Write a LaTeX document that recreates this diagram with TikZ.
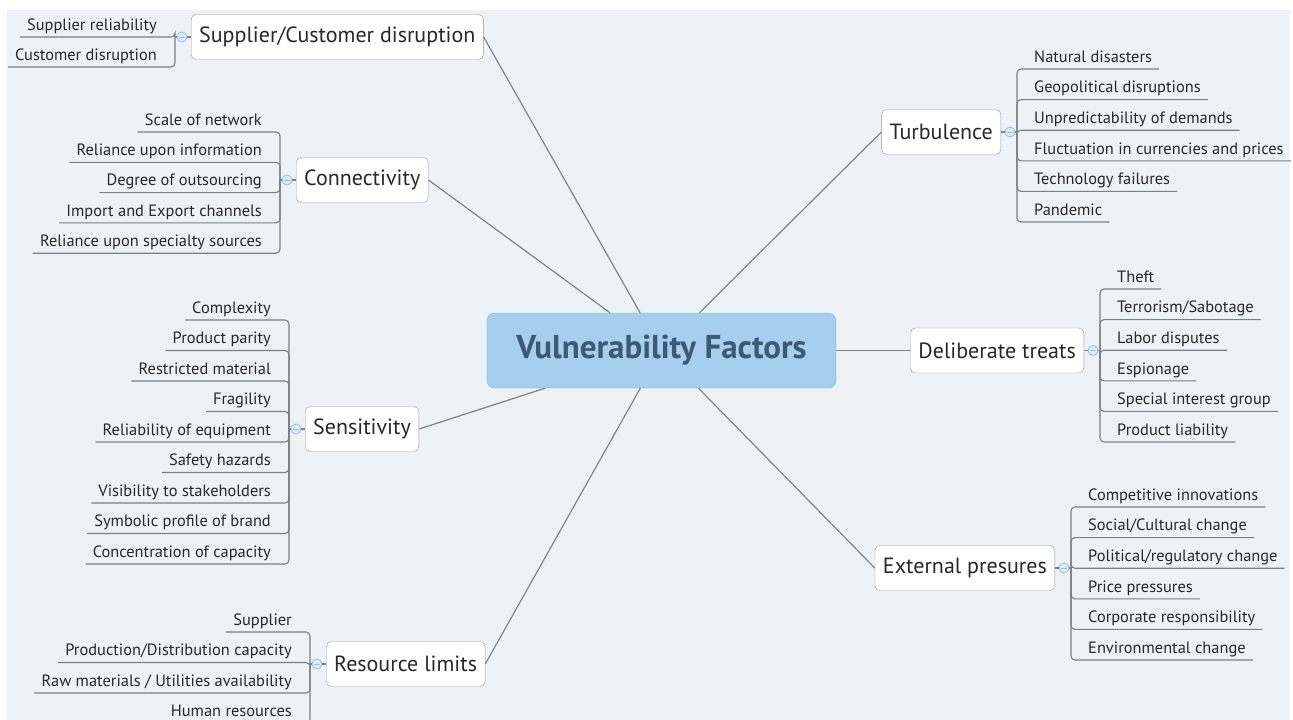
\documentclass[tikz,border=0pt]{standalone}
\usepackage{fontspec}
\setmainfont{PT Sans}
\usetikzlibrary{calc}
\definecolor{bgc}{RGB}{238,241,245}
\definecolor{rootfill}{RGB}{166,206,238}
\definecolor{rootline}{RGB}{122,172,218}
\definecolor{roottext}{RGB}{60,90,118}
\definecolor{topicline}{RGB}{150,152,156}
\definecolor{topictext}{RGB}{40,40,40}
\definecolor{branchc}{RGB}{128,131,138}
\definecolor{twigc}{RGB}{122,127,136}
\definecolor{knobline}{RGB}{150,192,230}
\definecolor{knobfill}{RGB}{222,234,246}
\tikzset{
  root/.style={draw=rootline, fill=rootfill, rounded corners=8pt, minimum width=349pt, minimum height=75pt, font=\fontsize{33}{38}\selectfont\bfseries, text=roottext},
  topic/.style={draw=topicline, fill=white, rounded corners=5pt, minimum height=45pt, inner xsep=8pt, font=\fontsize{22}{26}\selectfont, text=topictext},
  leaf/.style={font=\fontsize{16.4}{19}\selectfont, text=topictext, inner xsep=7pt, inner ysep=3pt, text height=11.5pt, text depth=3.5pt},
  knob/.style={circle, draw=knobline, fill=knobfill, line width=0.8pt, minimum size=10pt, inner sep=0pt,
    path picture={\draw[knobline, line width=0.8pt] ([xshift=-3pt]path picture bounding box.center) -- ([xshift=3pt]path picture bounding box.center);}},
  branch/.style={draw=branchc, line width=1.2pt},
  twig/.style={draw=twigc, line width=1.1pt, rounded corners=4pt}
}
\begin{document}
\begin{tikzpicture}[x=1pt, y=-1pt]
  \useasboundingbox (0,0) rectangle (1293,720);
  \fill[bgc] (7,10) rectangle (1290,720);

  \node[root] (vf) at (661.5,350.5) {Vulnerability Factors};

  % main topics
  \node[topic, anchor=west] (sc) at (191,37) {Supplier/Customer disruption};
  \node[topic, anchor=west] (ct) at (296,180) {Connectivity};
  \node[topic, anchor=west] (sn) at (305,429) {Sensitivity};
  \node[topic, anchor=west] (rl) at (326,664) {Resource limits};
  \node[topic, anchor=east] (tb) at (1001,132) {Turbulence};
  \node[topic, anchor=east] (dt) at (1084,350.5) {Deliberate treats};
  \node[topic, anchor=east] (ep) at (1055,568) {External presures};

  \foreach \n in {sc,ct,sn,rl} \draw[branch] (vf) -- (\n.east);
  \foreach \n in {tb,dt,ep} \draw[branch] (vf) -- (\n.west);

  % collapse knobs + bracket points
  \foreach \n in {sc,ct,sn,rl} {
    \node[knob] (\n-k) at ($(\n.west)+(-9,0)$) {};
    \coordinate (\n-j) at ($(\n.west)+(-16,0)$);
    \draw[twig] (\n) -- (\n-k) -- (\n-j);
  }
  \foreach \n in {tb,dt,ep} {
    \node[knob] (\n-k) at ($(\n.east)+(9,0)$) {};
    \coordinate (\n-j) at ($(\n.east)+(16,0)$);
    \draw[twig] (\n) -- (\n-k) -- (\n-j);
  }

  % left leaves
  \foreach \t [count=\i] in {Supplier reliability, Customer disruption} {
    \node[leaf, anchor=south east] (sc\i) at (164,{7+30*\i}) {\t};
    \draw[twig] (sc-j) |- (sc\i.south west);
  }
  \foreach \t [count=\i] in {Scale of network, Reliance upon information, Degree of outsourcing,
      Import and Export channels, Reliance upon specialty sources} {
    \node[leaf, anchor=south east] (ct\i) at (269,{101.7+30.3*\i}) {\t};
    \draw[twig] (ct-j) |- (ct\i.south west);
  }
  \foreach \t [count=\i] in {Complexity, Product parity, Restricted material, Fragility,
      Reliability of equipment, Safety hazards, Visibility to stakeholders,
      Symbolic profile of brand, Concentration of capacity} {
    \node[leaf, anchor=south east] (sn\i) at (278,{289.5+30.5*\i}) {\t};
    \draw[twig] (sn-j) |- (sn\i.south west);
  }
  \foreach \t [count=\i] in {Supplier, Production/Distribution capacity,
      Raw materials / Utilities availability, Human resources} {
    \node[leaf, anchor=south east] (rl\i) at (299,{601.5+30.5*\i}) {\t};
    \draw[twig] (rl-j) |- (rl\i.south west);
  }

  % right leaves
  \foreach \t [count=\i] in {Natural disasters, Geopolitical disruptions, Unpredictability of demands,
      Fluctuation in currencies and prices, Technology failures, Pandemic} {
    \node[leaf, anchor=south west] (tb\i) at (1027,{38.4+30.6*\i}) {\t};
    \draw[twig] (tb-j) |- (tb\i.south east);
  }
  \foreach \t [count=\i] in {Theft, Terrorism/Sabotage, Labor disputes, Espionage,
      Special interest group, Product liability} {
    \node[leaf, anchor=south west] (dt\i) at (1110,{258.4+30.6*\i}) {\t};
    \draw[twig] (dt-j) |- (dt\i.south east);
  }
  \foreach \t [count=\i] in {Competitive innovations, Social/Cultural change, Political/regulatory change,
      Price pressures, Corporate responsibility, Environmental change} {
    \node[leaf, anchor=south west] (ep\i) at (1081,{476.4+30.6*\i}) {\t};
    \draw[twig] (ep-j) |- (ep\i.south east);
  }
\end{tikzpicture}
\end{document}
